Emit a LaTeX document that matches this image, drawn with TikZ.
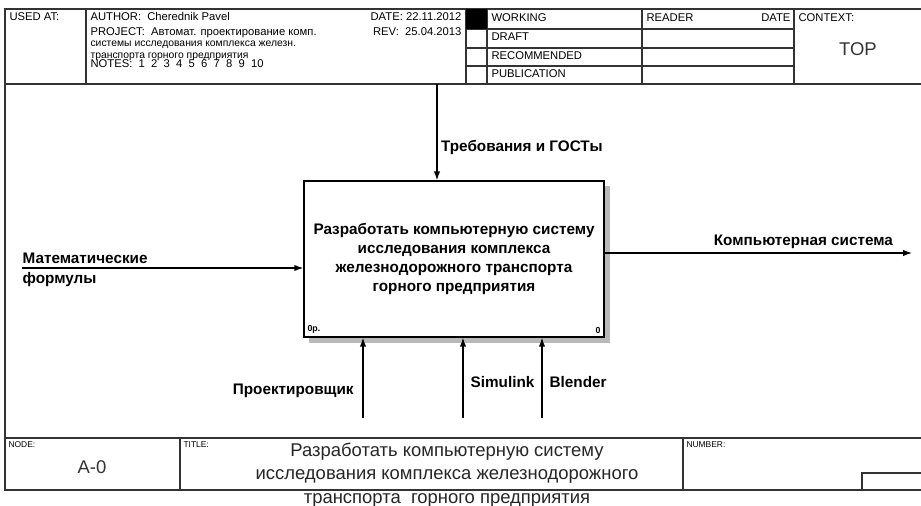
\documentclass[tikz,border=0pt]{standalone}
\usepackage{fontspec}
\setmainfont{Liberation Sans}
\usetikzlibrary{arrows.meta}
\begin{document}
\begin{tikzpicture}[x=0.02cm, y=-0.02cm, line width=0.6pt,
	frame/.style={draw=black!80, line width=0.8pt},
	small text/.style={font=\fontsize{6.4}{7}\selectfont, inner sep=0pt, anchor=north west},
	tiny text/.style={font=\fontsize{4.8}{5.2}\selectfont, inner sep=0pt, anchor=north west},
	act style/.style={draw, fill=white, line width=0.9pt, minimum width=6cm, minimum height=3.12cm, align=center, font=\bfseries\fontsize{8.7}{10.8}\selectfont},
	arrow label/.style={font=\bfseries\fontsize{8.7}{10}\selectfont, inner sep=2pt},
	flow/.style={-{Latex[length=5pt, width=3.6pt]}, line width=0.7pt}]
	\useasboundingbox (0,0) rectangle (921,506);
	% header
	\draw[frame] (921,9) -- (5,9) -- (5,490) -- (921,490);
	\draw[frame] (5,84) -- (921,84);
	\draw[frame] (86,9) -- (86,84) (466,9) -- (466,84) (487,9) -- (487,84) (642,9) -- (642,84) (794,9) -- (794,84);
	\draw[frame] (466,29) -- (794,29) (466,48) -- (794,48) (466,66) -- (794,66);
	\fill (466,9) rectangle (487,29);
	\node[small text] (used) at (9,12) {USED AT:};
	\node[small text] (author) at (90,12) {AUTHOR:\ \ Cherednik Pavel};
	\node[small text, anchor=north east] (date) at (462,12) {DATE: 22.11.2012};
	\node[small text] (project) at (90,27) {PROJECT:\ \ Автомат. проектирование комп.};
	\node[small text, anchor=north east] (rev) at (462,27) {REV:\ \ 25.04.2013};
	\node[tiny text, font=\fontsize{5.9}{6.2}\selectfont] (proj2) at (90,40) {системы исследования комплекса железн.};
	\node[tiny text, font=\fontsize{5.9}{6.2}\selectfont] (proj3) at (90,52) {транспорта горного предприятия};
	\node[small text] (notes) at (90,59) {NOTES:\ \ 1\ \ 2\ \ 3\ \ 4\ \ 5\ \ 6\ \ 7\ \ 8\ \ 9\ \ 10};
	\node[small text] (working) at (491,13) {WORKING};
	\node[small text] (draft) at (491,32) {DRAFT};
	\node[small text] (recommended) at (491,51) {RECOMMENDED};
	\node[small text] (publication) at (491,69) {PUBLICATION};
	\node[small text] (reader) at (646,13) {READER};
	\node[small text, anchor=north east] (rdate) at (791,13) {DATE};
	\node[small text] (context) at (798,13) {CONTEXT:};
	\node[font=\fontsize{10.5}{12}\selectfont, text=black!80] (top) at (858,49) {TOP};
	% footer
	\draw[frame] (5,438) -- (921,438);
	\draw[frame] (180,438) -- (180,490) (683,438) -- (683,490);
	\draw[frame] (862,490) -- (862,473) -- (921,473);
	\node[tiny text] (nodelbl) at (8,441) {NODE:};
	\node[font=\fontsize{10.5}{12}\selectfont, text=black!80] (nodenum) at (92,467) {A-0};
	\node[tiny text] (titlelbl) at (183,441) {TITLE:};
	\node[tiny text] (numberlbl) at (686,441) {NUMBER:};
	\node[align=center, font=\fontsize{10.5}{13.3}\selectfont, text=black!85] (title) at (447,475) {Разработать компьютерную систему\\исследования комплекса железнодорожного\\транспорта\ \ горного предприятия};
	% activity
	\fill[gray!55] (604,186) rectangle (610,343);
	\fill[gray!55] (309,337) rectangle (610,343);
	\node[act style] (act) at (454,259) {Разработать компьютерную систему\\исследования комплекса\\железнодорожного транспорта\\горного предприятия};
	\node[tiny text, anchor=south west, font=\bfseries\fontsize{5}{6}\selectfont] (num) at (307,334) {0р.};
	\node[tiny text, anchor=south east, font=\bfseries\fontsize{5}{6}\selectfont] (cost) at (601,334) {0};
	\coordinate (ctl) at (437,84);
	\coordinate (in) at (22,268);
	\coordinate (out) at (912,253);
	\coordinate (m1) at (363,418);
	\coordinate (m2) at (463,418);
	\coordinate (m3) at (542,418);
	\draw[flow] (ctl) -- node[arrow label, right, pos=0.66] {Требования и ГОСТы} (ctl |- act.north);
	\draw[flow] (in) -- node[arrow label, above right, pos=0, inner xsep=0pt] {Математические} node[arrow label, below right, pos=0, inner xsep=0pt] {формулы} (in -| act.west);
	\draw[flow] (out -| act.east) -- node[arrow label, above left, pos=0.94, inner xsep=0pt] {Компьютерная система} (out);
	\draw[flow] (m1) -- node[arrow label, left, pos=0.34, xshift=-3pt] {Проектировщик} (m1 |- act.south);
	\draw[flow] (m2) -- node[arrow label, right, pos=0.45, xshift=2pt] {Simulink} (m2 |- act.south);
	\draw[flow] (m3) -- node[arrow label, right, pos=0.45, xshift=2pt] {Blender} (m3 |- act.south);
\end{tikzpicture}
\end{document}
